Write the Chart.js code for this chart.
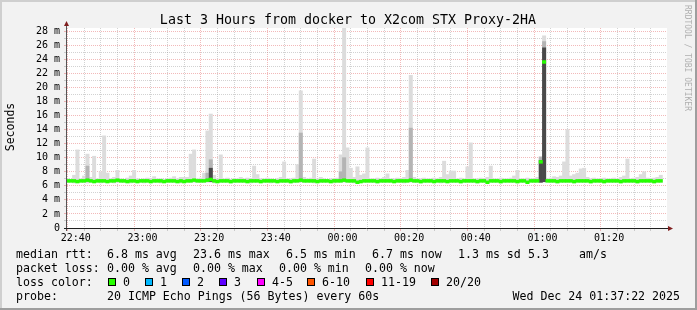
<!DOCTYPE html>
<html>
<head>
<meta charset="utf-8">
<script src="https://cdn.jsdelivr.net/npm/chart.js@4.4.1/dist/chart.umd.min.js"></script>
<style>
  html, body { margin: 0; padding: 0; background: #f2f2f2; }
  canvas { display: block; }
</style>
</head>
<body>
<canvas id="pingChart" width="697" height="310"></canvas>
<script>
// time axis: minutes counted from 22:37:00, one bar per minute
const originClock = '22:37';
const startClock = '22:37:22';
const endClock = '01:37:22';
const timeLabels = ['22:40', '23:00', '23:20', '23:40', '00:00', '00:20', '00:40', '01:00', '01:20'];

// smoke: lowest and highest ping of each minute (ms)
const rttMin = [
  6.5, 6.5, 6.4, 6.5, 6.5, 6.5, 6.4, 6.5, 6.5, 6.5, 6.4, 6.5, 6.5, 6.5, 6.4, 6.5, 6.5, 6.5, 6.5, 6.4,
  6.5, 6.5, 6.5, 6.4, 6.5, 6.5, 6.5, 6.5, 6.4, 6.5, 6.5, 6.5, 6.5, 6.5, 6.4, 6.5, 6.5, 6.5, 6.5, 6.5,
  6.5, 6.5, 6.5, 6.5, 6.4, 6.5, 6.5, 6.5, 6.5, 6.4, 6.5, 6.5, 6.5, 6.5, 6.5, 6.4, 6.5, 6.5, 6.5, 6.5,
  6.5, 6.4, 6.5, 6.5, 6.5, 6.5, 6.5, 6.4, 6.5, 6.5, 6.5, 6.5, 6.5, 6.5, 6.4, 6.5, 6.5, 6.5, 6.5, 6.5,
  6.4, 6.5, 6.5, 6.5, 6.5, 6.5, 6.4, 6.4, 6.5, 6.5, 6.5, 6.5, 6.5, 6.4, 6.5, 6.5, 6.5, 6.5, 6.5, 6.5,
  6.5, 6.4, 6.5, 6.5, 6.5, 6.5, 6.4, 6.5, 6.5, 6.5, 6.5, 6.5, 6.4, 6.5, 6.5, 6.5, 6.5, 6.5, 6.4, 6.5,
  6.5, 6.5, 6.5, 6.4, 6.5, 6.5, 6.4, 6.5, 6.5, 6.5, 6.4, 6.5, 6.5, 6.5, 6.5, 6.4, 6.5, 6.5, 6.4, 6.5,
  6.5, 6.5, 6.5, 6.5, 6.5, 6.5, 6.5, 6.4, 6.5, 6.5, 6.5, 6.5, 6.4, 6.5, 6.5, 6.5, 6.5, 6.4, 6.5, 6.5,
  6.5, 6.4, 6.5, 6.5, 6.5, 6.5, 6.4, 6.5, 6.5, 6.5, 6.5, 6.4, 6.5, 6.5, 6.5, 6.5, 6.4, 6.5, 6.5
];
const rttMax = [
  7.0, 6.9, 7.5, 11.1, 7.0, 7.4, 10.5, 7.2, 10.2, 7.0, 8.0, 13.1, 7.8, 7.0, 7.2, 8.2, 7.0, 6.9, 7.1, 7.4,
  8.2, 7.0, 6.9, 7.0, 7.1, 7.0, 7.3, 7.0, 7.0, 6.9, 7.0, 7.1, 7.3, 7.0, 7.2, 7.2, 7.2, 10.5, 11.1, 7.0,
  7.1, 7.8, 13.8, 16.2, 7.5, 7.0, 10.4, 7.0, 7.1, 6.9, 7.0, 7.0, 7.2, 7.0, 7.1, 7.0, 8.8, 7.6, 7.0, 7.0,
  7.1, 7.0, 6.9, 7.0, 7.2, 9.4, 7.0, 7.0, 7.1, 9.0, 19.5, 7.2, 7.0, 7.1, 9.8, 7.0, 7.2, 7.0, 6.9, 7.0,
  7.0, 7.1, 10.4, 28.4, 11.4, 8.5, 7.2, 8.7, 7.5, 7.7, 11.4, 7.0, 7.0, 7.1, 7.0, 7.2, 7.7, 7.0, 7.0, 7.1,
  7.0, 7.2, 8.2, 21.7, 7.2, 7.0, 7.0, 7.1, 7.0, 7.0, 7.1, 7.0, 7.2, 9.5, 7.6, 8.1, 8.1, 7.0, 7.1, 7.0,
  8.7, 12.1, 7.0, 7.0, 7.1, 7.0, 7.2, 8.8, 7.0, 7.0, 7.1, 7.0, 7.0, 7.1, 7.4, 8.2, 7.0, 7.0, 7.1, 7.0,
  7.0, 7.2, 10.1, 27.3, 7.0, 7.1, 7.3, 7.2, 7.4, 9.4, 14.0, 7.4, 7.6, 7.8, 8.4, 8.5, 7.2, 7.0, 7.1, 7.0,
  7.0, 7.1, 7.0, 7.0, 7.1, 7.0, 7.2, 7.4, 9.8, 7.0, 7.1, 7.2, 7.6, 8.0, 7.1, 7.0, 7.1, 7.2, 7.5
];
// median rtt of each minute (ms)
const rttMedian = [
  6.7, 6.7, 6.7, 6.6, 6.7, 6.7, 6.8, 6.7, 6.6, 6.7, 6.7, 6.7, 6.6, 6.7, 6.7, 6.8, 6.7, 6.7, 6.6, 6.7,
  6.7, 6.6, 6.7, 6.7, 6.7, 6.6, 6.7, 6.7, 6.7, 6.6, 6.7, 6.7, 6.7, 6.6, 6.7, 6.6, 6.7, 6.7, 6.8, 6.7,
  6.7, 6.7, 6.8, 6.9, 6.7, 6.6, 6.7, 6.7, 6.7, 6.6, 6.7, 6.7, 6.7, 6.7, 6.6, 6.7, 6.7, 6.7, 6.6, 6.7,
  6.7, 6.7, 6.7, 6.6, 6.7, 6.7, 6.7, 6.6, 6.7, 6.7, 6.8, 6.7, 6.7, 6.7, 6.7, 6.6, 6.7, 6.7, 6.7, 6.6,
  6.7, 6.7, 6.7, 6.8, 6.7, 6.7, 6.7, 6.5, 6.6, 6.7, 6.7, 6.7, 6.7, 6.6, 6.7, 6.7, 6.7, 6.7, 6.6, 6.7,
  6.7, 6.7, 6.7, 6.8, 6.7, 6.7, 6.6, 6.7, 6.7, 6.7, 6.6, 6.7, 6.7, 6.7, 6.6, 6.7, 6.7, 6.7, 6.6, 6.7,
  6.7, 6.7, 6.7, 6.6, 6.7, 6.7, 6.5, 6.7, 6.7, 6.7, 6.6, 6.7, 6.7, 6.7, 6.7, 6.6, 6.7, 6.7, 6.5, 6.7,
  6.7, 6.7, 9.4, 23.6, 6.7, 6.7, 6.7, 6.6, 6.7, 6.7, 6.7, 6.7, 6.6, 6.7, 6.7, 6.7, 6.7, 6.6, 6.7, 6.7,
  6.7, 6.6, 6.7, 6.7, 6.7, 6.7, 6.6, 6.7, 6.7, 6.7, 6.7, 6.6, 6.7, 6.7, 6.7, 6.7, 6.6, 6.7, 6.7
];
// denser smoke where many pings were slow
const innerMinutes = [6, 42, 43, 70, 82, 83, 103, 142, 143];
const innerLow = [6.6, 6.6, 6.6, 6.6, 6.6, 6.6, 6.6, 6.5, 6.6];
const innerHigh = [8.8, 7.8, 9.7, 13.5, 8.0, 10.0, 14.2, 10.1, 26.5];
const coreMinutes = [43, 142, 143];
const coreLow = [6.6, 6.5, 6.6];
const coreHigh = [8.5, 9.6, 25.6];

const legendHeads = ['median rtt:', 'packet loss:', 'loss color:', 'probe:'];
const rttStats = ['6.8 ms avg', '23.6 ms max', '6.5 ms min', '6.7 ms now', '1.3 ms sd', '5.3', 'am/s'];
const lossStats = ['0.00 % avg', '0.00 % max', '0.00 % min', '0.00 % now'];
const lossBuckets = ['0', '1', '2', '3', '4-5', '6-10', '11-19', '20/20'];
const lossColors = ['#26ff00', '#00b8ff', '#0059ff', '#5e00ff', '#ff00ff', '#ff5500', '#ff0000', '#a10000'];
const probeText = '20 ICMP Echo Pings (56 Bytes) every 60s';
const stampText = 'Wed Dec 24 01:37:22 2025';
const titleText = 'Last 3 Hours from docker to X2com STX Proxy-2HA';

const MONO = '"DejaVu Sans Mono", monospace';
const GRID_MAJOR = 'rgba(222,79,79,0.4)';
const GRID_MINOR = 'rgba(143,143,143,0.4)';

function clockToMin(s) {
  const [h, m, sec = 0] = s.split(':').map(Number);
  const [oh, om] = originClock.split(':').map(Number);
  let v = h * 60 + m + sec / 60 - (oh * 60 + om);
  if (v < 0) v += 1440;
  return v;
}

const axisMin = clockToMin(startClock);
const axisMax = clockToMin(endClock);
const majorTicks = timeLabels.map(clockToMin);
const gridTicks = [];
for (let t = majorTicks[0]; t < axisMax; t += 5) gridTicks.push(t);
const isMajorX = v => majorTicks.some(m => Math.abs(m - v) < 0.01);

const barOpts = {
  barPercentage: 1,
  categoryPercentage: 1,
  borderWidth: 0,
  grouped: false
};

const ctx = document.getElementById('pingChart').getContext('2d');

// frame, axes with arrows and all the rrdtool text
const rrdLook = {
  id: 'rrdLook',
  beforeDraw(chart) {
    const { ctx, chartArea: a, width, height } = chart;
    ctx.save();
    ctx.fillStyle = '#f2f2f2';
    ctx.fillRect(0, 0, width, height);
    ctx.fillStyle = '#cfcfcf';
    ctx.fillRect(0, 0, width, 2);
    ctx.fillRect(0, 0, 2, height);
    ctx.fillStyle = '#9e9e9e';
    ctx.fillRect(0, height - 2, width, 2);
    ctx.fillRect(width - 2, 0, 2, height);
    ctx.fillStyle = '#ffffff';
    ctx.fillRect(a.left, a.top, a.right - a.left, a.bottom - a.top);
    ctx.restore();
  },
  afterDraw(chart) {
    const { ctx, chartArea: a, width } = chart;
    ctx.save();

    // axes
    ctx.strokeStyle = '#555';
    ctx.lineWidth = 1;
    ctx.beginPath();
    ctx.moveTo(a.left - 0.5, a.bottom + 3);
    ctx.lineTo(a.left - 0.5, a.top - 3);
    ctx.stroke();
    ctx.strokeStyle = '#202020';
    ctx.beginPath();
    ctx.moveTo(a.left - 3, a.bottom + 0.5);
    ctx.lineTo(a.right + 2, a.bottom + 0.5);
    ctx.stroke();
    ctx.fillStyle = '#801f1f';
    ctx.beginPath();
    ctx.moveTo(a.left - 0.5, a.top - 7);
    ctx.lineTo(a.left - 3, a.top - 2);
    ctx.lineTo(a.left + 2, a.top - 2);
    ctx.fill();
    ctx.beginPath();
    ctx.moveTo(a.right + 6, a.bottom + 0.5);
    ctx.lineTo(a.right + 1, a.bottom - 2);
    ctx.lineTo(a.right + 1, a.bottom + 3);
    ctx.fill();

    // title
    ctx.fillStyle = '#000';
    ctx.font = '13.3px ' + MONO;
    ctx.textAlign = 'center';
    ctx.textBaseline = 'alphabetic';
    ctx.fillText(titleText, 348, 24);

    // vertical axis title
    ctx.font = '11.5px ' + MONO;
    ctx.save();
    ctx.translate(14, 127);
    ctx.rotate(-Math.PI / 2);
    ctx.fillText('Seconds', 0, 0);
    ctx.restore();

    // watermark
    ctx.save();
    ctx.fillStyle = '#b0b0b0';
    ctx.font = '8px ' + MONO;
    ctx.textAlign = 'left';
    ctx.translate(685, 5);
    ctx.rotate(Math.PI / 2);
    ctx.fillText('RRDTOOL / TOBI OETIKER', 0, 0);
    ctx.restore();

    // legend rows
    ctx.font = '11.6px ' + MONO;
    ctx.textAlign = 'left';
    ctx.fillStyle = '#000';
    const rows = [258, 272, 286, 300];
    legendHeads.forEach((t, i) => ctx.fillText(t, 16, rows[i]));
    const rttX = [107, 193, 286, 372, 458, 528, 579];
    rttStats.forEach((t, i) => ctx.fillText(t, rttX[i], rows[0]));
    const lossX = [107, 193, 279, 365];
    lossStats.forEach((t, i) => ctx.fillText(t, lossX[i], rows[1]));
    const boxX = [108, 145, 182, 219, 257, 307, 366, 431];
    lossBuckets.forEach((t, i) => {
      ctx.fillStyle = lossColors[i];
      ctx.fillRect(boxX[i], rows[2] - 8, 8, 8);
      ctx.strokeStyle = '#000';
      ctx.lineWidth = 1;
      ctx.strokeRect(boxX[i] + 0.5, rows[2] - 7.5, 7, 7);
      ctx.fillStyle = '#000';
      ctx.fillText(t, boxX[i] + 15, rows[2]);
    });
    ctx.fillText(probeText, 107, rows[3]);
    ctx.textAlign = 'right';
    ctx.fillText(stampText, width - 17, rows[3]);

    ctx.restore();
  }
};

new Chart(ctx, {
  type: 'bar',
  data: {
    datasets: [
      {
        label: 'median',
        order: 0,
        backgroundColor: lossColors[0],
        data: rttMedian.map((m, k) => ({ x: k + 0.5, y: [m - 0.2, m + 0.2] })),
        ...barOpts
      },
      {
        label: 'core',
        order: 1,
        backgroundColor: '#4a4a4a',
        data: coreMinutes.map((k, i) => ({ x: k + 0.5, y: [coreLow[i], coreHigh[i]] })),
        ...barOpts
      },
      {
        label: 'inner',
        order: 2,
        backgroundColor: '#b4b4b4',
        data: innerMinutes.map((k, i) => ({ x: k + 0.5, y: [innerLow[i], innerHigh[i]] })),
        ...barOpts
      },
      {
        label: 'smoke',
        order: 3,
        backgroundColor: '#dcdcdc',
        data: rttMax.map((hi, k) => ({ x: k + 0.5, y: [rttMin[k], hi] })),
        ...barOpts
      }
    ]
  },
  options: {
    responsive: false,
    animation: false,
    events: [],
    layout: { padding: { left: 0, top: 28, right: 30, bottom: 0 } },
    plugins: {
      legend: { display: false },
      tooltip: { enabled: false },
      title: { display: false }
    },
    scales: {
      x: {
        type: 'linear',
        min: axisMin,
        max: axisMax,
        offset: false,
        z: 1,
        afterFit(s) { s.height = 82; },
        afterBuildTicks(s) { s.ticks = gridTicks.map(v => ({ value: v })); },
        grid: {
          lineWidth: 1,
          tickLength: 3,
          color: c => (c.tick && isMajorX(c.tick.value)) ? GRID_MAJOR : GRID_MINOR
        },
        border: { display: false, dash: [1, 1] },
        ticks: {
          autoSkip: false,
          maxRotation: 0,
          padding: 1,
          color: '#000',
          font: { family: MONO, size: 10 },
          callback: v => {
            const i = majorTicks.findIndex(m => Math.abs(m - v) < 0.01);
            return i >= 0 ? timeLabels[i] : '';
          }
        }
      },
      y: {
        min: 0,
        max: 28.43,
        z: 1,
        afterFit(s) { s.width = 67; },
        afterBuildTicks(s) {
          const t = [];
          for (let v = 0; v <= 28; v++) t.push({ value: v });
          s.ticks = t;
        },
        grid: {
          lineWidth: 1,
          tickLength: 3,
          color: c => (c.tick && c.tick.value % 2 === 0) ? GRID_MAJOR : GRID_MINOR
        },
        border: { display: false, dash: [1, 1] },
        ticks: {
          autoSkip: false,
          padding: 4,
          color: '#000',
          font: { family: MONO, size: 10 },
          callback: v => v === 0 ? '0' : (v % 2 === 0 ? v + ' m' : '')
        }
      }
    }
  },
  plugins: [rrdLook]
});
</script>
</body>
</html>
